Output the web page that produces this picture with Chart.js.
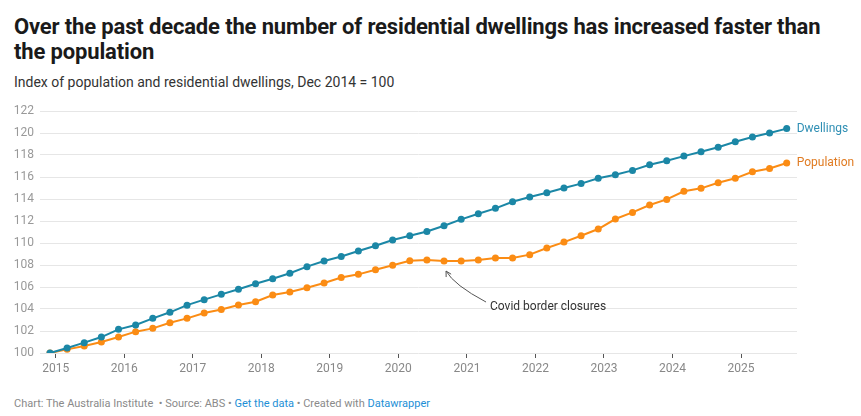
<!DOCTYPE html>
<html>
<head>
<meta charset="utf-8">
<script src="https://cdn.jsdelivr.net/npm/chart.js@4.4.1/dist/chart.umd.min.js"></script>
<style>
  body { margin: 0; width: 861px; height: 416px; background: #fff; font-family: Roboto, sans-serif; position: relative; overflow: hidden; }
  #title { position: absolute; left: 14px; top: 14px; width: 830px; font-size: 22px; font-weight: 700; line-height: 25px; color: #1a1a1a; letter-spacing: -0.15px; }
  #subtitle { position: absolute; left: 14px; top: 74px; font-size: 14px; color: #333; }
  #wrap { position: absolute; left: 0; top: 97px; width: 861px; height: 290px; }
  #footer { position: absolute; left: 14px; top: 397px; font-size: 11px; color: #8a8a8a; }
  #footer a { color: #1d8fd6; text-decoration: none; }
</style>
</head>
<body>
<div id="title">Over the past decade the number of residential dwellings has increased faster than the population</div>
<div id="subtitle">Index of population and residential dwellings, Dec 2014 = 100</div>
<div id="wrap"><canvas id="myChart"></canvas></div>
<div id="footer">Chart: The Australia Institute &nbsp;• Source: ABS • <a>Get the data</a> • Created with <a>Datawrapper</a></div>

<script>
// quarters, year-month
const quarters = [
  '2014-12',
  '2015-03', '2015-06', '2015-09', '2015-12',
  '2016-03', '2016-06', '2016-09', '2016-12',
  '2017-03', '2017-06', '2017-09', '2017-12',
  '2018-03', '2018-06', '2018-09', '2018-12',
  '2019-03', '2019-06', '2019-09', '2019-12',
  '2020-03', '2020-06', '2020-09', '2020-12',
  '2021-03', '2021-06', '2021-09', '2021-12',
  '2022-03', '2022-06', '2022-09', '2022-12',
  '2023-03', '2023-06', '2023-09', '2023-12',
  '2024-03', '2024-06', '2024-09', '2024-12',
  '2025-03', '2025-06', '2025-09'
];

const dwellings = [
  100, 100.45, 100.94, 101.45, 102.15, 102.55, 103.15, 103.7, 104.35, 104.85,
  105.33, 105.8, 106.3, 106.75, 107.25, 107.85, 108.36, 108.78, 109.27, 109.75,
  110.27, 110.66, 111.05, 111.57, 112.15, 112.66, 113.15, 113.75, 114.18, 114.57,
  115.0, 115.4, 115.88, 116.2, 116.6, 117.12, 117.48, 117.9, 118.3, 118.7,
  119.2, 119.63, 120.0, 120.4
];

const population = [
  100, 100.33, 100.64, 101.0, 101.45, 101.94, 102.24, 102.75, 103.15, 103.64,
  103.96, 104.36, 104.66, 105.27, 105.55, 105.94, 106.36, 106.87, 107.15, 107.57,
  107.97, 108.39, 108.45, 108.36, 108.36, 108.45, 108.64, 108.64, 108.94, 109.55,
  110.08, 110.66, 111.27, 112.18, 112.78, 113.45, 113.96, 114.7, 114.97, 115.48,
  115.88, 116.48, 116.78, 117.27
];

const yearTicks = [2015, 2016, 2017, 2018, 2019, 2020, 2021, 2022, 2023, 2024, 2025];
const yTicks = [100, 102, 104, 106, 108, 110, 112, 114, 116, 118, 120, 122];

const blue = '#1b87a6';
const orange = '#fb8c14';

function toYear(q) {
  const [y, m] = q.split('-').map(Number);
  return y + (m - 1) / 12;
}

function points(vals) {
  return vals.map((v, i) => ({ x: toYear(quarters[i]), y: v }));
}

// labels at the end of each line
const endLabels = {
  id: 'endLabels',
  afterDatasetsDraw(chart) {
    const c = chart.ctx;
    c.save();
    c.font = '12px Roboto, sans-serif';
    c.textBaseline = 'middle';
    chart.data.datasets.forEach((ds, i) => {
      const meta = chart.getDatasetMeta(i);
      const p = meta.data[meta.data.length - 1];
      c.fillStyle = ds.labelColor;
      c.fillText(ds.label, p.x + 10, p.y);
    });
    c.restore();
  }
};

// covid note with curved arrow
const covidNote = {
  id: 'covidNote',
  afterDatasetsDraw(chart) {
    const c = chart.ctx;
    const p = chart.getDatasetMeta(1).data[23];
    const tx = p.x + 2, ty = p.y + 10;
    const sx = p.x + 42, sy = p.y + 41;
    const cx = p.x + 10, cy = p.y + 24;
    c.save();
    c.strokeStyle = '#555';
    c.lineWidth = 1;
    c.beginPath();
    c.moveTo(sx, sy);
    c.quadraticCurveTo(cx, cy, tx, ty);
    c.stroke();
    const ang = Math.atan2(ty - cy, tx - cx);
    c.beginPath();
    c.moveTo(tx - 6 * Math.cos(ang - 0.5), ty - 6 * Math.sin(ang - 0.5));
    c.lineTo(tx, ty);
    c.lineTo(tx - 6 * Math.cos(ang + 0.5), ty - 6 * Math.sin(ang + 0.5));
    c.stroke();
    c.fillStyle = '#333';
    c.font = '12px Roboto, sans-serif';
    c.textBaseline = 'middle';
    c.fillText('Covid border closures', p.x + 46, p.y + 46);
    c.restore();
  }
};

const ctx = document.getElementById('myChart').getContext('2d');

const myChart = new Chart(ctx, {
  type: 'line',
  data: {
    datasets: [{
      label: 'Dwellings',
      data: points(dwellings),
      borderColor: blue,
      backgroundColor: blue,
      labelColor: '#2f8fb4',
      borderWidth: 2,
      pointRadius: 3.5,
      pointBorderWidth: 0,
      tension: 0
    }, {
      label: 'Population',
      data: points(population),
      borderColor: orange,
      backgroundColor: orange,
      labelColor: '#e07b22',
      borderWidth: 2,
      pointRadius: 3.5,
      pointBorderWidth: 0,
      tension: 0
    }]
  },
  options: {
    responsive: true,
    maintainAspectRatio: false,
    animation: false,
    layout: {
      padding: { left: 0, right: 64, top: 14, bottom: 0 }
    },
    plugins: {
      legend: { display: false },
      tooltip: { enabled: false }
    },
    scales: {
      x: {
        type: 'linear',
        min: 2014.771,
        max: 2025.817,
        afterBuildTicks: (axis) => { axis.ticks = yearTicks.map(v => ({ value: v })); },
        afterFit: (axis) => { axis.height = 34; },
        ticks: {
          color: '#888',
          font: { family: 'Roboto', size: 12 },
          padding: 4,
          maxRotation: 0,
          callback: (v) => String(v)
        },
        grid: { drawOnChartArea: false, drawTicks: true, tickLength: 5, color: '#555' },
        border: { display: false }
      },
      y: {
        min: 100,
        max: 122,
        afterBuildTicks: (axis) => { axis.ticks = yTicks.map(v => ({ value: v })); },
        afterFit: (axis) => { axis.width = 40; },
        ticks: {
          color: '#999',
          font: { family: 'Roboto', size: 12 },
          padding: 6
        },
        grid: { color: '#e6e6e6', drawTicks: false },
        border: { display: false }
      }
    }
  },
  plugins: [endLabels, covidNote]
});
</script>
</body>
</html>
